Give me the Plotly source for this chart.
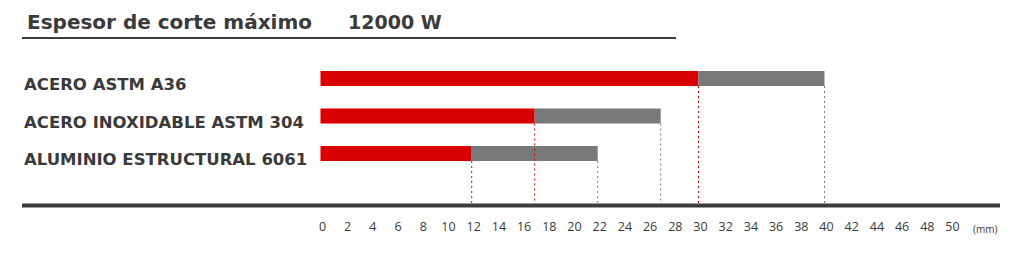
import plotly.graph_objects as go

materials = ["ACERO ASTM A36", "ACERO INOXIDABLE ASTM 304", "ALUMINIO ESTRUCTURAL 6061"]
min_mm = [30, 17, 12]
max_mm = [40, 27, 22]
tick_vals = list(range(0, 52, 2))
tick_text = [str(v) for v in tick_vals]
title_left = "Espesor de corte máximo"
title_right = "12000 W"
unit_label = "(mm)"

RED = "#d80000"
GRAY = "#787878"
TXT = "#3a3a3a"
FONT = "Open Sans"
BOLD = "DejaVu Sans"

W, H = 1024, 257
PLOT_H = 205
X0_PX, SCALE = 320.5, 12.6


def px2x(px):
    return (px - X0_PX) / SCALE


def py2paper(py):
    return 1 - py / PLOT_H


ROW0, ROWSTEP = 78.5, 37.5
y_top = (0 - ROW0) / ROWSTEP
y_bot = (PLOT_H - ROW0) / ROWSTEP
BAR_W = 15 / ROWSTEP

fig = go.Figure()
fig.add_trace(go.Bar(y=materials, x=min_mm, orientation="h", marker_color=RED,
                     width=BAR_W, hoverinfo="skip", marker_line_width=0))
fig.add_trace(go.Bar(y=materials, x=[b - a for a, b in zip(min_mm, max_mm)],
                     base=min_mm, orientation="h", marker_color=GRAY,
                     width=BAR_W, hoverinfo="skip", marker_line_width=0))

shapes = []
for i, (a, b) in enumerate(zip(min_mm, max_mm)):
    yb = i + BAR_W / 2
    shapes.append(dict(type="line", xref="x", yref="y", x0=a, x1=a, y0=yb, y1=y_bot,
                       line=dict(color=RED, width=1, dash="2px,3px")))
    shapes.append(dict(type="line", xref="x", yref="y", x0=b, x1=b, y0=yb, y1=y_bot,
                       line=dict(color=GRAY, width=1, dash="2px,3px")))
# baseline axis
shapes.append(dict(type="line", xref="x", yref="paper", x0=px2x(22), x1=px2x(1000),
                   y0=py2paper(205.5), y1=py2paper(205.5), line=dict(color="#3c3c3c", width=4)))
# title underline
shapes.append(dict(type="line", xref="x", yref="paper", x0=px2x(22), x1=px2x(676),
                   y0=py2paper(38), y1=py2paper(38), line=dict(color="#3c3c3c", width=2)))

annotations = []
for m in materials:
    annotations.append(dict(x=px2x(22), y=m, xref="x", yref="y", text=m, showarrow=False,
                            xanchor="left", yanchor="middle", yshift=-6,
                            font=dict(family=BOLD, size=16.5, color=TXT, weight=700)))
annotations.append(dict(x=px2x(25), y=py2paper(22), xref="x", yref="paper", text=title_left,
                        showarrow=False, xanchor="left", yanchor="middle",
                        font=dict(family=BOLD, size=20, color=TXT, weight=800)))
annotations.append(dict(x=px2x(346), y=py2paper(22), xref="x", yref="paper", text=title_right,
                        showarrow=False, xanchor="left", yanchor="middle",
                        font=dict(family=BOLD, size=19, color=TXT, weight=800)))
annotations.append(dict(x=px2x(971), y=py2paper(229), xref="x", yref="paper", text=unit_label,
                        showarrow=False, xanchor="left", yanchor="middle",
                        font=dict(family=FONT, size=10, color=TXT)))

fig.update_layout(
    width=W, height=H,
    margin=dict(l=0, r=0, t=0, b=H - PLOT_H),
    paper_bgcolor="white", plot_bgcolor="white",
    barmode="overlay", showlegend=False,
    shapes=shapes, annotations=annotations,
    xaxis=dict(range=[px2x(0), px2x(W)], tickvals=tick_vals, ticktext=tick_text,
               showgrid=False, zeroline=False, showline=False, ticks="",
               ticklabelstandoff=12, ticklabelshift=2,
               tickfont=dict(family=FONT, size=12.5, color=TXT)),
    yaxis=dict(range=[y_bot, y_top], categoryorder="array", categoryarray=materials,
               showticklabels=False, showgrid=False, zeroline=False, showline=False),
)

fig.write_html("out.html")
